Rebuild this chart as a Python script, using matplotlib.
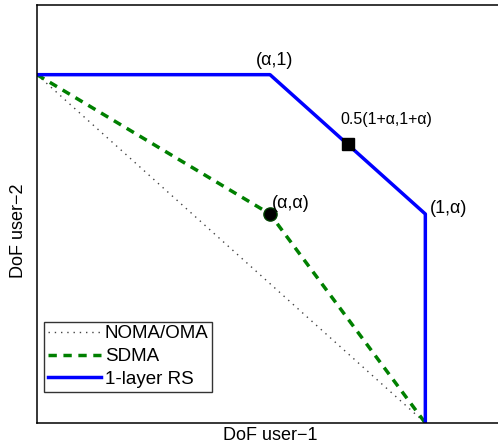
import matplotlib
matplotlib.use('Agg')
import matplotlib.pyplot as plt

#===== DATA =======================================#
alpha = 0.6
noma_x = [0, 1]
noma_y = [1, 0]
sdma_x = [0, alpha, 1]
sdma_y = [1, alpha, 0]
rs_x = [0, alpha, 1, 1]
rs_y = [1, 1, alpha, 0]
mid_pt = [0.5 * (1 + alpha), 0.5 * (1 + alpha)]

#===== PLOT =======================================#
plt.rcParams['font.family'] = ['Liberation Sans', 'DejaVu Sans']

fig = plt.figure(figsize=(4.98, 4.46), dpi=100)
ax = fig.add_axes([37 / 498, 23 / 446, 466 / 498, 418 / 446])

ax.plot(noma_x, noma_y, color='#444444', lw=1.0, dashes=(1, 3.5), label='NOMA/OMA')
ax.plot(sdma_x, sdma_y, color='#008000', lw=2.5, dashes=(2.4, 1.9), label='SDMA')
ax.plot(rs_x, rs_y, '-', color='#0000ff', lw=2.5, label='1-layer RS')

ax.plot([alpha], [alpha], 'o', color='black', ms=9.5, mec='#004000', mew=1)
ax.plot([mid_pt[0]], [mid_pt[1]], 's', color='black', ms=8)

ax.text(alpha + 0.012, 1.015, '(α,1)', ha='center', va='bottom', fontsize=13)
ax.text(mid_pt[0] - 0.02, mid_pt[1] + 0.05, '0.5(1+α,1+α)', ha='left', va='bottom', fontsize=11.5)
ax.text(1.012, alpha - 0.01, '(1,α)', ha='left', va='bottom', fontsize=13)
ax.text(alpha + 0.005, alpha + 0.005, '(α,α)', ha='left', va='bottom', fontsize=13)

ax.set_xlim(0, 1.2)
ax.set_ylim(0, 1.2)
ax.set_xticks([])
ax.set_yticks([])
for s in ax.spines.values():
    s.set_linewidth(1.1)
ax.set_xlabel('DoF user\u22121', fontsize=13, labelpad=3)
ax.set_ylabel('DoF user\u22122', fontsize=13)
ax.yaxis.set_label_coords(-0.022, 0.46)

ax.legend(loc='lower left', bbox_to_anchor=(0.015, 0.075), fontsize=13.5,
          fancybox=False, edgecolor='#333333', framealpha=1,
          handlelength=2.85, handletextpad=0.2, borderpad=0.2,
          labelspacing=0.3, borderaxespad=0)

fig.savefig('out.png', dpi=100)
